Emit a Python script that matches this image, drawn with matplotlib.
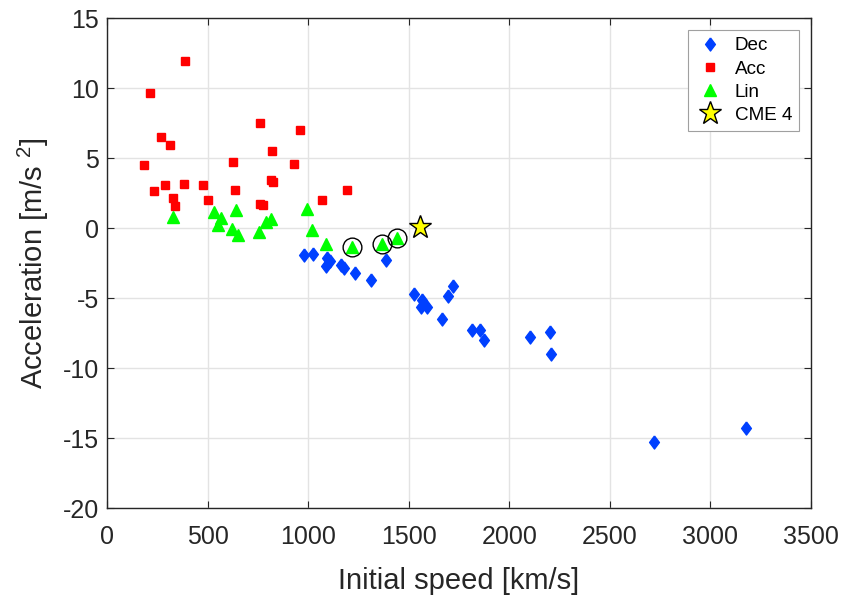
import matplotlib
matplotlib.use("Agg")
import matplotlib.pyplot as plt

plt.rcParams['font.family'] = ['Liberation Sans', 'DejaVu Sans']
plt.rcParams['mathtext.fontset'] = 'custom'
plt.rcParams['mathtext.rm'] = 'Liberation Sans'
plt.rcParams['mathtext.default'] = 'regular'
plt.rcParams['axes.unicode_minus'] = False

# decelerating events
dec_v = [980, 1026, 1092, 1109, 1089, 1164, 1180, 1234, 1313, 1389, 1525, 1566,
         1561, 1591, 1664, 1696, 1719, 1815, 1855, 1876, 2105, 2203, 2209, 2721, 3175]
dec_a = [-1.95, -1.85, -2.13, -2.37, -2.73, -2.66, -2.89, -3.2, -3.73, -2.25, -4.69, -5.15,
         -5.62, -5.62, -6.47, -4.86, -4.15, -7.25, -7.25, -8.02, -7.82, -7.4, -9.01, -15.29, -14.25]

# accelerating events
acc_v = [389, 213, 266, 312, 186, 233, 287, 327, 337, 385, 475, 504,
         625, 637, 761, 819, 816, 824, 763, 778, 958, 930, 1071, 1194]
acc_a = [11.9, 9.65, 6.49, 5.95, 4.48, 2.63, 3.06, 2.13, 1.59, 3.15, 3.06, 1.99,
         4.74, 2.72, 7.47, 5.5, 3.46, 3.29, 1.71, 1.64, 6.97, 4.55, 2.03, 2.7]

# linear events
lin_v = [329, 534, 569, 554, 640, 622, 649, 756, 791, 814, 995, 1021, 1091, 1220, 1368, 1444]
lin_a = [0.8, 1.11, 0.73, 0.23, 1.28, -0.05, -0.48, -0.26, 0.4, 0.64, 1.37, -0.14, -1.14,
         -1.33, -1.12, -0.74]

# circled linear events
circ_v = [1220, 1368, 1444]
circ_a = [-1.33, -1.12, -0.74]

cme_v = [1558]
cme_a = [0.04]

diamond = [(0, 1), (0.75, 0), (0, -1), (-0.75, 0), (0, 1)]

fig = plt.figure(figsize=(8.45, 5.96), dpi=100)
ax = fig.add_axes([107 / 845, 88 / 596, 704 / 845, 490 / 596])

ax.plot(dec_v, dec_a, linestyle='none', marker=diamond, ms=9.4, color='#0040ff',
        mec='#0040ff', label='Dec', zorder=3)
ax.plot(acc_v, acc_a, linestyle='none', marker='s', ms=5.8, color='#ff0000',
        label='Acc', zorder=3)
ax.plot(lin_v, lin_a, linestyle='none', marker='^', ms=8.6, color='#00ff00',
        label='Lin', zorder=4)
ax.plot(circ_v, circ_a, linestyle='none', marker='o', ms=13.5, mfc='none', mec='k',
        mew=1.0, zorder=5)
ax.plot(cme_v, cme_a, linestyle='none', marker='*', ms=17, mfc='#ffff00', mec='k',
        mew=1.0, label='CME 4', zorder=6)

ax.set_xlim(0, 3500)
ax.set_ylim(-20, 15)
ax.set_xticks(range(0, 3501, 500))
ax.set_yticks(range(-20, 16, 5))
ax.grid(True, color='#e3e3e3', linewidth=1.0)
ax.set_axisbelow(True)
ax.tick_params(direction='in', top=True, right=True, labelsize=18,
               colors='#262626', length=5)
ax.tick_params(axis='x', pad=12)
ax.tick_params(axis='y', pad=6)
for s in ax.spines.values():
    s.set_color('#262626')
    s.set_linewidth(1.0)

ax.set_xlabel('Initial speed [km/s]', fontsize=21, color='#262626', labelpad=13)
ax.set_ylabel('Acceleration [m/s $^2$]', fontsize=21, color='#262626', labelpad=8)

leg = ax.legend(loc='upper right', fontsize=13.6, fancybox=False, framealpha=1,
                edgecolor='#a0a0a0', borderaxespad=0.63, handletextpad=0.5,
                labelspacing=0.32, borderpad=0.38, handlelength=1.6)
leg.get_frame().set_linewidth(0.8)

fig.savefig('out.png', dpi=100)
